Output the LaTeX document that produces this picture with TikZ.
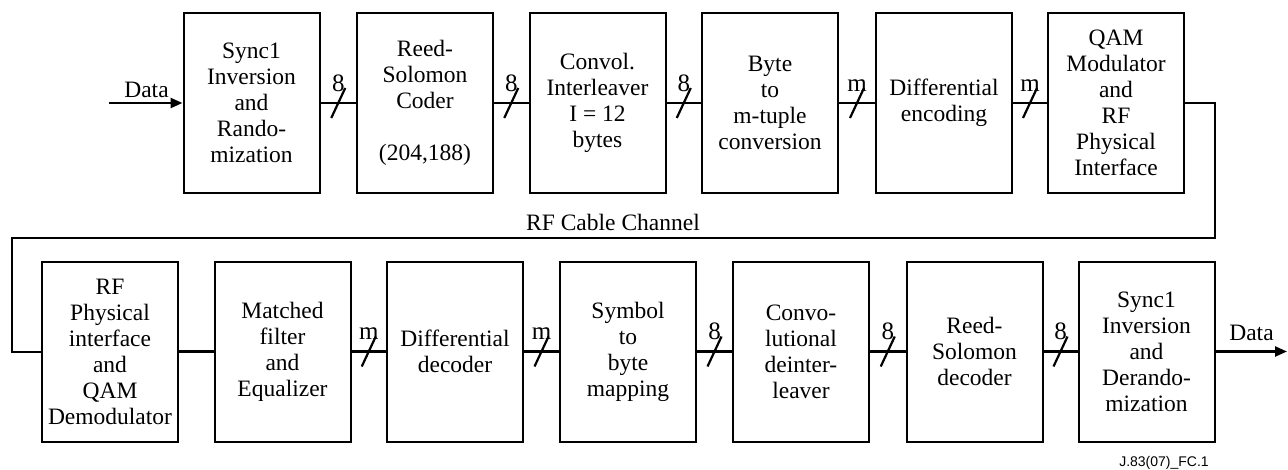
\documentclass[tikz,border=0pt]{standalone}
\usepackage{fontspec}
\setmainfont{Liberation Serif}
\newfontfamily\footfont{Liberation Sans}
\usetikzlibrary{arrows.meta,calc}
\tikzset{
  blk/.style={draw, line width=2pt, minimum width=136pt, minimum height=180pt, inner sep=0pt, align=center,
    font=\fontsize{23.5}{26}\selectfont},
  conn/.style={line width=2.4pt},
  ret/.style={line width=2pt},
  arr/.style={line width=2.4pt, -{Triangle[length=12pt,width=10pt]}},
  lbl/.style={font=\fontsize{23.5}{26}\selectfont, anchor=base, inner sep=0pt},
  buslbl/.style={font=\fontsize{25}{27}\selectfont, anchor=base, inner sep=0pt},
}
\newcommand{\busmark}[2]{%
  \draw[line width=2.2pt] ($(#1)+(-7,15)$) -- ($(#1)+(7,-15)$);
  \node[buslbl] at ($(#1)+(0,-12)$) {#2};}
\begin{document}
\begin{tikzpicture}[x=1pt,y=-1pt]
\useasboundingbox (0,0) rectangle (1288,469);
% top row
\node[blk] (b1) at (251.5,103) {Sync1\\Inversion\\and\\Rando-\\mization};
\node[blk] (b2) at (425,103) {Reed-\\Solomon\\Coder\\[26pt](204,188)};
\node[blk] (b3) at (597.5,103) {Convol.\\Interleaver\\I = 12\\bytes};
\node[blk] (b4) at (770,103) {Byte\\to\\m-tuple\\conversion};
\node[blk] (b5) at (944,103) {Differential\\encoding};
\node[blk] (b6) at (1116,103) {QAM\\Modulator\\and\\RF\\Physical\\Interface};
% bottom row
\node[blk] (b7) at (110,351.5) {RF\\Physical\\interface\\and\\QAM\\Demodulator};
\node[blk] (b8) at (282.5,351.5) {Matched\\filter\\and\\Equalizer};
\node[blk] (b9) at (455,351.5) {Differential\\decoder};
\node[blk] (b10) at (628,351.5) {Symbol\\to\\byte\\mapping};
\node[blk] (b11) at (801,351.5) {Convo-\\lutional\\deinter-\\leaver};
\node[blk] (b12) at (974.5,351.5) {Reed-\\Solomon\\decoder};
\node[blk] (b13) at (1146.5,351.5) {Sync1\\Inversion\\and\\Derando-\\mization};
% input / output
\coordinate (din) at (109,103);
\coordinate (dout) at (1287,351.5);
\draw[arr] (din) -- (b1.west);
\node[lbl] (lin) at (146.5,97) {Data};
\draw[arr] (b13.east) -- (dout);
\node[lbl] (lout) at (1251.5,340) {Data};
% top connectors
\draw[conn] (b1.east) -- (b2.west) coordinate[midway] (g1);
\draw[conn] (b2.east) -- (b3.west) coordinate[midway] (g2);
\draw[conn] (b3.east) -- (b4.west) coordinate[midway] (g3);
\draw[conn] (b4.east) -- (b5.west) coordinate[midway] (g4);
\draw[conn] (b5.east) -- (b6.west) coordinate[midway] (g5);
\busmark{g1}{8}\busmark{g2}{8}\busmark{g3}{8}\busmark{g4}{m}\busmark{g5}{m}
% bottom connectors
\draw[conn] (b7.east) -- (b8.west);
\draw[conn] (b8.east) -- (b9.west) coordinate[midway] (h2);
\draw[conn] (b9.east) -- (b10.west) coordinate[midway] (h3);
\draw[conn] (b10.east) -- (b11.west) coordinate[midway] (h4);
\draw[conn] (b11.east) -- (b12.west) coordinate[midway] (h5);
\draw[conn] (b12.east) -- (b13.west) coordinate[midway] (h6);
\busmark{h2}{m}\busmark{h3}{m}\busmark{h4}{8}\busmark{h5}{8}\busmark{h6}{8}
% return channel
\coordinate (r1) at (1215,238);
\coordinate (r2) at (12,238);
\draw[ret] (b6.east) -| (r1) -- (r2) |- (b7.west);
\node[lbl] (ch) at (613,230) {RF Cable Channel};
% footer
\node[anchor=base, inner sep=0pt, font=\footfont\fontsize{14}{16}\selectfont] (ft) at (1164,466) {J.83(07)\_FC.1};
\end{tikzpicture}
\end{document}
